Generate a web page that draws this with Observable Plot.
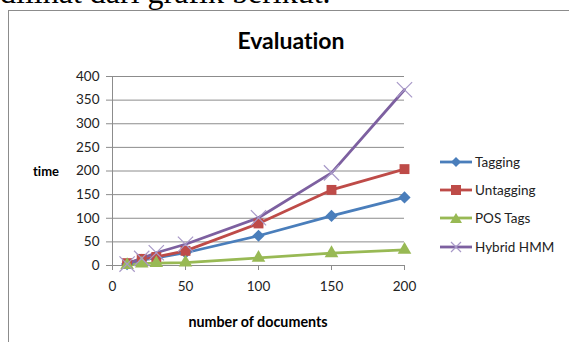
<!DOCTYPE html>
<html>
<head>
<meta charset="utf-8">
<script src="https://cdn.jsdelivr.net/npm/d3@7"></script>
<script src="https://cdn.jsdelivr.net/npm/@observablehq/plot@0.6"></script>
<style>
  html, body { margin: 0; padding: 0; background: #fff; }
  #wrap { position: relative; width: 569px; height: 342px; overflow: hidden; font-family: Lato, "Open Sans", sans-serif; font-variant-ligatures: none; }
  #wrap svg.plot { position: absolute; left: 0; top: 0; }
  .abs { position: absolute; white-space: nowrap; }
  #frame { position: absolute; left: 8px; top: 10px; width: 600px; height: 400px; border-left: 1px solid #8c8c8c; border-top: 1px solid #8c8c8c; }
  #para { font-family: "Liberation Serif", "Times New Roman", serif; font-size: 32px; line-height: 32px; left: 0px; top: -24px; color: #000; }
  #title { font-weight: bold; font-size: 23px; left: 0; width: 582px; text-align: center; top: 26px; line-height: 28px; color: #000; }
  #ylab { font-weight: bold; font-size: 13px; left: 33px; top: 163px; line-height: 16px; }
  #xlab { font-weight: bold; font-size: 14.3px; left: 258px; transform: translateX(-50%); top: 314px; line-height: 16px; }
  #legend { left: 436px; top: 148px; }
</style>
</head>
<body>
<div id="wrap">
  <div id="frame"></div>
  <div id="para" class="abs">dilihat dari grafik berikut.</div>
  <div id="title" class="abs">Evaluation</div>
  <div id="ylab" class="abs">time</div>
  <div id="xlab" class="abs">number of documents</div>
  <div id="legend" class="abs"></div>
</div>
<script>
// ---- data ----
const documents = [10, 20, 30, 50, 100, 150, 200];
const tagging   = [3, 12, 16, 27, 63, 105, 144];
const untagging = [5, 14, 18, 31, 89, 160, 204];
const posTags   = [1, 4, 5, 6, 16, 26, 33];
const hybridHMM = [3, 15, 27, 45, 101, 196, 372];
const seriesNames = ["Tagging", "Untagging", "POS Tags", "Hybrid HMM"];
const xTicks = [0, 50, 100, 150, 200];
const yTicks = [0, 50, 100, 150, 200, 250, 300, 350, 400];

// ---- styling (not data) ----
const styles = {
  "Tagging":    {color: "#4a7ebb", symbol: "diamond2", r: 5.5, fill: true},
  "Untagging":  {color: "#be4b48", symbol: "square2",  r: 6.3, fill: true},
  "POS Tags":   {color: "#98b954", symbol: "triangle2", r: 6.5, fill: true},
  "Hybrid HMM": {color: "#7d60a0", symbol: "times",    r: 7,   fill: false, markColor: "#a899c8"}
};

const valuesBySeries = [tagging, untagging, posTags, hybridHMM];
const rows = [];
seriesNames.forEach((s, i) => {
  documents.forEach((d, j) => rows.push({series: s, x: d, y: valuesBySeries[i][j]}));
});

const marks = [
  Plot.gridY(yTicks, {stroke: "#8c8c8c", strokeOpacity: 1}),
  Plot.ruleX([0], {stroke: "#8c8c8c"}),
  Plot.ruleY([0], {stroke: "#8c8c8c"}),
  Plot.axisY(yTicks, {tickSize: 6, tickPadding: 7, label: null, stroke: "#8c8c8c", fill: "#222", fontSize: 13.5}),
  Plot.axisX(xTicks, {tickSize: 5, tickPadding: 11, label: null, stroke: "#8c8c8c", fill: "#222", fontSize: 13.5})
];
seriesNames.forEach(s => {
  const st = styles[s];
  const data = rows.filter(r => r.series === s);
  marks.push(Plot.line(data, {x: "x", y: "y", stroke: st.color, strokeWidth: 2.8}));
});
seriesNames.forEach(s => {
  const st = styles[s];
  const data = rows.filter(r => r.series === s);
  if (st.fill) {
    marks.push(Plot.dot(data, {x: "x", y: "y", symbol: () => st.symbol, r: st.r, fill: st.color, stroke: "none"}));
  } else {
    marks.push(Plot.dot(data, {x: "x", y: "y", symbol: () => st.symbol, r: st.r, stroke: st.markColor, strokeWidth: 1.2}));
  }
});

const chart = Plot.plot({
  width: 569,
  height: 342,
  marginLeft: 112,
  marginRight: 165,
  marginTop: 76,
  marginBottom: 77,
  x: {domain: [0, 200]},
  y: {domain: [0, 400]},
  symbol: {type: "identity"},
  style: {fontFamily: "Lato, 'Open Sans', sans-serif", fontSize: "13px", background: "transparent", color: "#222"},
  marks
});
chart.classList.add("plot");
document.getElementById("wrap").insertBefore(chart, document.getElementById("para"));

// ---- legend ----
const legend = document.getElementById("legend");
const rowH = [0, 28, 56, 85];
let html = "";
seriesNames.forEach((s, i) => {
  const st = styles[s];
  const y = 14 + rowH[i];
  let sym = "";
  const cx = 20;
  if (s === "Tagging") sym = `<path d="M${cx},${y-5} L${cx+5},${y} L${cx},${y+5} L${cx-5},${y} Z" fill="${st.color}"/>`;
  if (s === "Untagging") sym = `<rect x="${cx-5}" y="${y-5}" width="10" height="10" fill="${st.color}"/>`;
  if (s === "POS Tags") sym = `<path d="M${cx},${y-5} L${cx+6},${y+5} L${cx-6},${y+5} Z" fill="${st.color}"/>`;
  if (s === "Hybrid HMM") sym = `<path d="M${cx-5},${y-5} L${cx+5},${y+5} M${cx+5},${y-5} L${cx-5},${y+5}" stroke="${st.markColor}" stroke-width="1.2"/>`;
  html += `<line x1="4" x2="36" y1="${y}" y2="${y}" stroke="${st.color}" stroke-width="2.8"/>` + sym +
    `<text x="39" y="${y}" dy="0.35em" font-size="13.5" fill="#222" font-family="Lato, 'Open Sans', sans-serif">${s}</text>`;
});
legend.innerHTML = `<svg width="133" height="120">${html}</svg>`;
</script>
</body>
</html>
